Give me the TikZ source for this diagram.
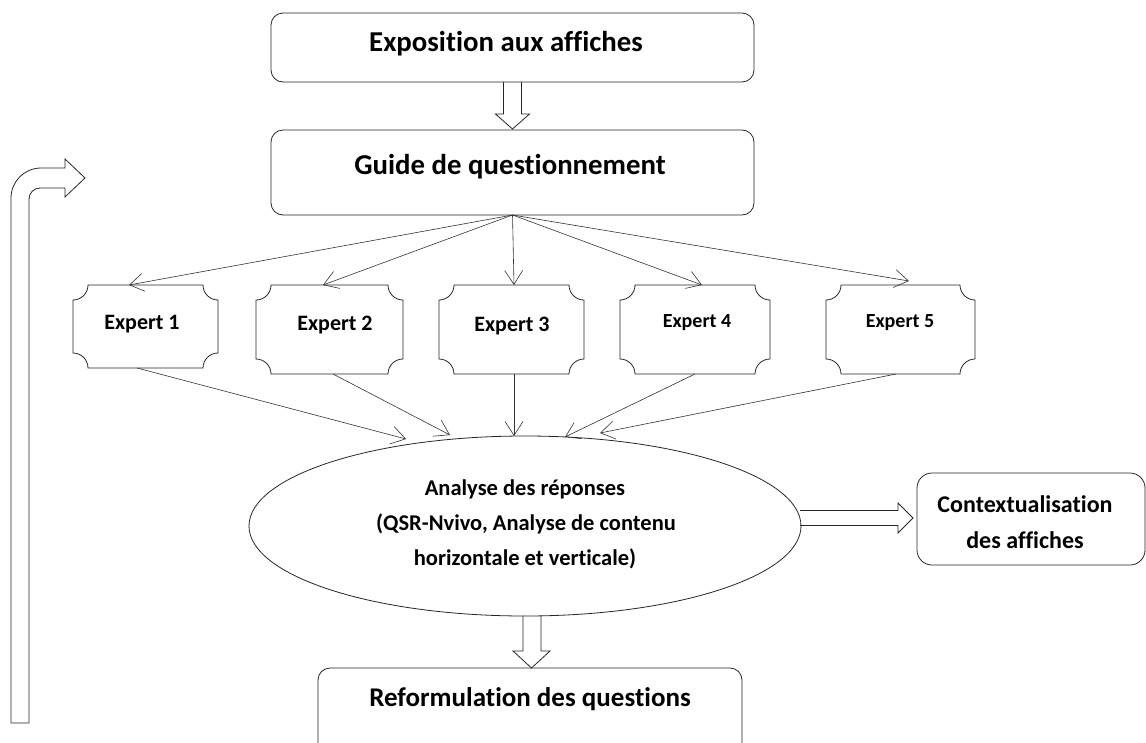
\documentclass[tikz,border=0pt]{standalone}
\usepackage{fontspec}
\setmainfont{Carlito}[Ligatures={NoCommon}]
\usetikzlibrary{arrows.meta,shapes.geometric,calc}
\newcommand\plaquebox[1]{%
  \draw[boxline] ([xshift=15pt]#1.north west) -- ([xshift=-15pt]#1.north east)
    arc[start angle=180,end angle=270,radius=15pt]
    -- ([yshift=15pt]#1.south east)
    arc[start angle=90,end angle=180,radius=15pt]
    -- ([xshift=15pt]#1.south west)
    arc[start angle=0,end angle=90,radius=15pt]
    -- ([yshift=-15pt]#1.north west)
    arc[start angle=270,end angle=360,radius=15pt] -- cycle;}
\begin{document}
\begin{tikzpicture}[x=1pt,y=1pt,
  boxline/.style={draw=black!85,line width=0.8pt},
  box/.style={boxline,rounded corners=12pt,inner sep=0pt,outer sep=0pt},
  holder/.style={inner sep=0pt,outer sep=0pt},
  title/.style={font=\bfseries\fontsize{28.8}{30}\selectfont,anchor=base,inner sep=0pt},
  reftitle/.style={font=\bfseries\fontsize{27}{30}\selectfont,anchor=base,inner sep=0pt},
  exptext/.style={font=\bfseries\fontsize{22}{24}\selectfont,anchor=base,inner sep=0pt},
  exptextsm/.style={font=\bfseries\fontsize{20}{24}\selectfont,anchor=base,inner sep=0pt},
  elltext/.style={font=\bfseries\fontsize{22.5}{24}\selectfont,anchor=base,inner sep=0pt},
  ctxtext/.style={font=\bfseries\fontsize{24}{26}\selectfont,anchor=base,inner sep=0pt},
  thinarrow/.style={draw=black!80,line width=0.6pt,-{Straight Barb[length=14pt,width=18pt]}},
  block/.style={draw=black!85,line width=0.8pt,line join=miter},
]
\useasboundingbox (0,0) rectangle (1146,-742);
\clip (0,0) rectangle (1146,-742);

% top boxes
\node[box,minimum width=483pt,minimum height=69pt] (expo) at (512.5,-47.5) {};
\node[title] (expot) at (506,-51) {Exposition aux affiches};
\node[box,minimum width=483pt,minimum height=85pt] (guide) at (512.5,-172.5) {};
\node[title] (guidet) at (510,-174) {Guide de questionnement};

% experts
\node[holder,minimum width=145pt,minimum height=83pt] (e1) at (145.5,-326.5) {};
\node[holder,minimum width=147pt,minimum height=89pt] (e2) at (329.5,-329.5) {};
\node[holder,minimum width=145pt,minimum height=89pt] (e3) at (511.5,-329.5) {};
\node[holder,minimum width=150pt,minimum height=89pt] (e4) at (695,-329.5) {};
\node[holder,minimum width=149pt,minimum height=89pt] (e5) at (900.5,-329.5) {};
\plaquebox{e1}\plaquebox{e2}\plaquebox{e3}\plaquebox{e4}\plaquebox{e5}
\node[exptext] (e1t) at (142,-329) {Expert 1};
\node[exptext] (e2t) at (335,-330) {Expert 2};
\node[exptext] (e3t) at (512,-331) {Expert 3};
\node[exptextsm] (e4t) at (697,-327) {Expert 4};
\node[exptextsm] (e5t) at (900,-327) {Expert 5};

% ellipse
\node[ellipse,boxline,minimum width=552pt,minimum height=180pt,inner sep=0pt,outer sep=0pt] (ell) at (525,-526) {};
\node[elltext] (ell1) at (525,-495) {Analyse des réponses};
\node[elltext] (ell2) at (526,-530) {(QSR-Nvivo, Analyse de contenu};
\node[elltext] (ell3) at (525,-565) {horizontale et verticale)};

% contextualisation
\node[box,rounded corners=15pt,minimum width=228pt,minimum height=92pt] (ctx) at (1031,-519) {};
\node[ctxtext] (ctx1) at (1025,-512) {Contextualisation};
\node[ctxtext] (ctx2) at (1025,-548) {des affiches};

% reformulation
\node[box,minimum width=424pt,minimum height=120pt] (ref) at (530,-728) {};
\node[reftitle] (reft) at (530,-706) {Reformulation des questions};

% block arrows
\draw[block] ([xshift=-9pt]expo.south) -- ([xshift=-9pt,yshift=16pt]guide.north)
  -- ([xshift=-17pt,yshift=16pt]guide.north) -- ([yshift=1pt]guide.north)
  -- ([xshift=17pt,yshift=16pt]guide.north) -- ([xshift=9pt,yshift=16pt]guide.north)
  -- ([xshift=9pt]expo.south);
\draw[block] ([xshift=-2pt,yshift=0.5pt]ell.south) -- ([xshift=-7pt,yshift=17pt]ref.north)
  -- ([xshift=-17pt,yshift=17pt]ref.north) -- ([xshift=1.5pt]ref.north)
  -- ([xshift=20pt,yshift=17pt]ref.north) -- ([xshift=11pt,yshift=17pt]ref.north)
  -- ([xshift=16pt,yshift=0.5pt]ell.south);
\draw[block] ([xshift=-117pt,yshift=8.5pt]ctx.west) -- ([xshift=-19pt,yshift=8.5pt]ctx.west)
  -- ([xshift=-19pt,yshift=16pt]ctx.west) -- ([xshift=-4pt,yshift=1pt]ctx.west)
  -- ([xshift=-19pt,yshift=-14pt]ctx.west) -- ([xshift=-19pt,yshift=-6.5pt]ctx.west)
  -- ([xshift=-117pt,yshift=-6.5pt]ctx.west);

% fan arrows
\draw[thinarrow] (guide.south) -- ([xshift=-16.5pt]e1.north);
\draw[thinarrow] (guide.south) -- ([xshift=-6.5pt]e2.north);
\draw[thinarrow] (guide.south) -- ([xshift=2.5pt]e3.north);
\draw[thinarrow] (guide.south) -- ([xshift=7pt]e4.north);
\draw[thinarrow] (guide.south) -- ([xshift=8.5pt,yshift=4pt]e5.north);

% experts to ellipse
\draw[thinarrow] ([xshift=-8.5pt]e1.south) -- ([xshift=-119pt,yshift=-3pt]ell.north);
\draw[thinarrow] ([xshift=3.5pt]e2.south) -- ([xshift=-75pt,yshift=1pt]ell.north);
\draw[thinarrow] ([xshift=2.5pt]e3.south) -- ([xshift=-11pt]ell.north);
\draw[thinarrow] (e4.south) -- ([xshift=40pt,yshift=-1pt]ell.north);
\draw[thinarrow] ([xshift=-4.5pt]e5.south) -- ([xshift=75pt,yshift=3pt]ell.north);

% loop-back arrow
\draw[block] (11,-723) -- (11,-198) arc[start angle=180,end angle=90,radius=30pt]
  -- (65,-168) -- (65,-159) -- (85,-178) -- (65,-197) -- (65,-188) -- (40,-188)
  arc[start angle=90,end angle=180,radius=11pt] -- (29,-723) -- cycle;
\end{tikzpicture}
\end{document}
